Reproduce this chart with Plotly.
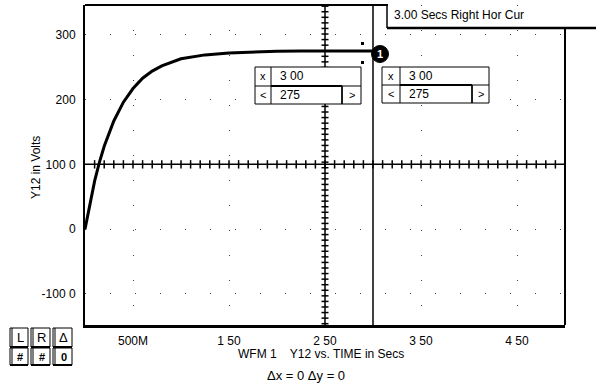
import numpy as np
import plotly.graph_objects as go

# ---- data ----
time_s = [0.0, 0.05, 0.10, 0.15, 0.20, 0.30, 0.40, 0.50, 0.60, 0.70, 0.80, 1.00,
          1.25, 1.50, 1.75, 2.00, 2.25, 2.50, 2.75, 3.00]
y12_volts = [0, 40, 74, 103, 128, 167, 196, 217, 233, 244, 252, 263,
             269, 272, 273.5, 274.5, 275, 275, 275, 275]
x_tick_vals = [0.5, 1.5, 2.5, 3.5, 4.5]
x_tick_text = ["500M", "1 50", "2 50", "3 50", "4 50"]
y_tick_vals = [-100, 0, 100, 200, 300]
y_tick_text = ["-100 0", "0", "100 0", "200", "300"]
cursor_x = 3.00
cursor_y = 275
crosshair_x = 2.5
crosshair_y = 100

FONT = "Arial, Liberation Sans, sans-serif"
W, H = 596, 387
L, R, T, B = 85, 565, 5, 325


def px(x):
    return (x - L) / (R - L)


def py(y):
    return (B - y) / (B - T)


fig = go.Figure()

# main curve
fig.add_trace(go.Scatter(x=time_s, y=y12_volts, mode="lines",
                         line=dict(color="black", width=3), hoverinfo="skip"))

# crosshair tick marks
hx = np.arange(0.1, 5.0, 0.1)
fig.add_trace(go.Scatter(x=hx, y=[crosshair_y] * len(hx), mode="markers",
                         marker=dict(symbol="line-ns", size=6,
                                     line=dict(color="black", width=1.5)),
                         hoverinfo="skip"))
vy = np.arange(-146, 346, 8.6)
fig.add_trace(go.Scatter(x=[crosshair_x] * len(vy), y=vy, mode="markers",
                         marker=dict(symbol="line-ew", size=5,
                                     line=dict(color="black", width=1.5)),
                         hoverinfo="skip"))

shapes = []


def pline(x0, y0, x1, y1, w=1.5):
    shapes.append(dict(type="line", xref="paper", yref="paper",
                       x0=px(x0), y0=py(y0), x1=px(x1), y1=py(y1),
                       line=dict(color="black", width=w)))


def prect(x0, y0, x1, y1, w=1, fill="white"):
    shapes.append(dict(type="rect", xref="paper", yref="paper",
                       x0=px(x0), y0=py(y0), x1=px(x1), y1=py(y1),
                       line=dict(color="black", width=w), fillcolor=fill))


# frame pieces
pline(85, 5, 388, 5, 2)
pline(387, 4, 387, 28, 1.5)
pline(387, 28, 596, 28, 2.5)
pline(565, 28, 565, 325, 2)

# crosshair lines
shapes.append(dict(type="line", xref="paper", yref="y", x0=0, x1=1,
                   y0=crosshair_y, y1=crosshair_y, line=dict(color="black", width=1.5)))
shapes.append(dict(type="line", xref="x", yref="paper", x0=crosshair_x, x1=crosshair_x,
                   y0=0, y1=1, line=dict(color="black", width=1.5)))
# cursor vertical line
shapes.append(dict(type="line", xref="x", yref="paper", x0=cursor_x, x1=cursor_x,
                   y0=0, y1=1, line=dict(color="black", width=1.5)))

# marker brackets and circle
prect(361, 42, 364, 45, 0, "black")
prect(361, 61, 364, 64, 0, "black")
shapes.append(dict(type="circle", xref="paper", yref="paper",
                   x0=px(371.5), x1=px(388.5), y0=py(45.5), y1=py(62.5),
                   line=dict(color="black", width=1), fillcolor="black"))

annotations = []


def ptext(x, y, s, size=12, color="black", xanchor="center", bold=False):
    if bold:
        s = "<b>" + s + "</b>"
    annotations.append(dict(xref="paper", yref="paper", x=px(x), y=py(y), text=s,
                            showarrow=False, xanchor=xanchor, yanchor="middle",
                            font=dict(family=FONT, size=size, color=color)))


ptext(380, 54, "1", 11, "white", bold=True)

# readout boxes
for (x0, x1, xd, gx, yt, ym, yb) in [(255, 361, 271, 342, 67, 86, 104),
                                     (382, 489, 400, 472, 67, 85, 103)]:
    prect(x0, yt, x1, yb, 1)
    pline(x0, ym, x1, ym, 1)
    pline(xd, yt, xd, yb, 1)
    pline(gx, ym, gx, yb, 1)
    pline(xd, ym, gx, ym, 2)
    pline(gx, ym, gx, yb, 1.5)
    ptext((x0 + xd) / 2, (yt + ym) / 2, "x", 11)
    ptext((x0 + xd) / 2, (ym + yb) / 2, "&lt;", 11)
    ptext((gx + x1) / 2, (ym + yb) / 2, "&gt;", 11)
    ptext(xd + 7, (yt + ym) / 2, "3 00", 12, xanchor="left")
    ptext(xd + 7, (ym + yb) / 2, "275", 12, xanchor="left")

# cursor label
ptext(392, 15, "3.00 Secs Right Hor Cur", 12, xanchor="left")

# bottom-left buttons
cols = [(10, 28), (31, 50), (53, 72)]
rows = [(328, 347), (348, 365)]
labels = [["L", "R", "Δ"], ["#", "#", "0"]]
for ri, (ya, yb) in enumerate(rows):
    for ci, (xa, xb) in enumerate(cols):
        prect(xa, ya, xb, yb, 1)
        pline(xa, yb, xb, yb, 2)
        pline(xa + 2, ya, xa + 2, yb, 1)
        ptext((xa + xb) / 2 + 1, (ya + yb) / 2, labels[ri][ci],
              13 if ri == 0 else 11, bold=(ri == 1))

# axis titles
annotations.append(dict(xref="paper", yref="paper", x=px(27), y=py(168),
                        text="Y12 in Volts", textangle=-90, showarrow=False,
                        font=dict(family=FONT, size=12, color="black")))
ptext(321, 354, "WFM 1    Y12 vs. TIME in Secs", 12)
ptext(306, 375, "Δx = 0 Δy = 0", 13)

grid_dash = "1px,24px"
fig.update_layout(
    width=W, height=H, autosize=False,
    margin=dict(l=L, r=W - R, t=T, b=H - B, pad=0),
    paper_bgcolor="white", plot_bgcolor="white",
    showlegend=False,
    shapes=shapes, annotations=annotations,
    xaxis=dict(range=[0, 5], tickvals=x_tick_vals, ticktext=x_tick_text,
               ticks="", showline=True, linecolor="black", linewidth=2.5,
               showgrid=True, gridcolor="#444", gridwidth=1, griddash=grid_dash,
               zeroline=False, ticklabelstandoff=3,
               tickfont=dict(family=FONT, size=12, color="black")),
    yaxis=dict(range=[-148, 346], tickvals=y_tick_vals, ticktext=y_tick_text,
               ticks="", showline=True, linecolor="black", linewidth=2,
               showgrid=True, gridcolor="#444", gridwidth=1, griddash=grid_dash,
               zeroline=False, ticklabelstandoff=5,
               tickfont=dict(family=FONT, size=12, color="black")),
)

fig.write_html("out.html")
